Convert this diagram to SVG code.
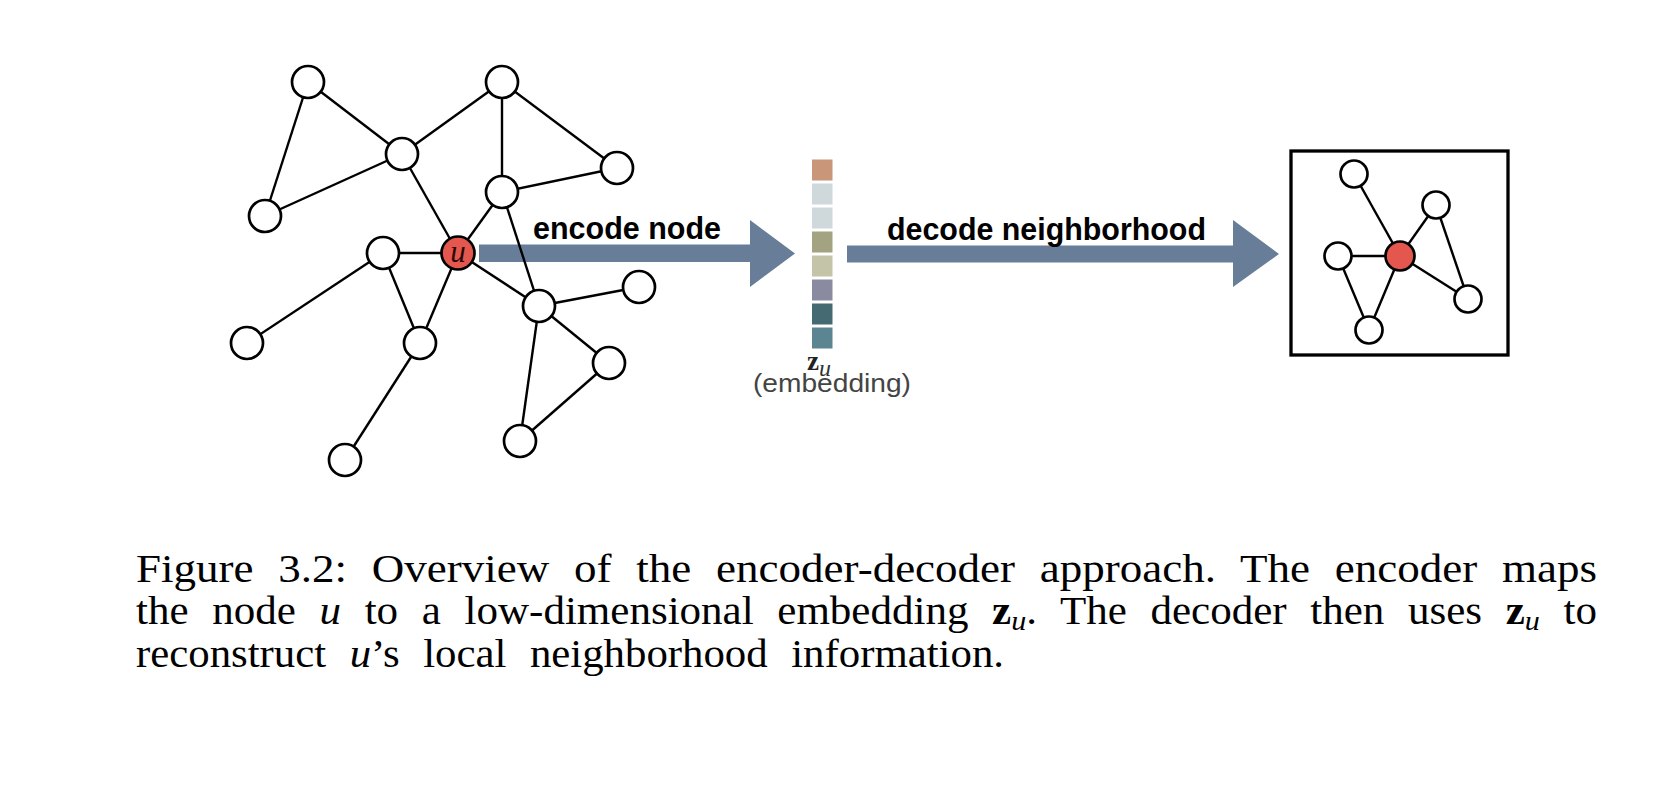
<svg xmlns="http://www.w3.org/2000/svg" width="1670" height="788" viewBox="0 0 1670 788">
<style>
.nd{fill:#fff;stroke:#000;stroke-width:2.7}
.red{fill:#e4574f;stroke:#000;stroke-width:2.7}
.ed{stroke:#000;stroke-width:2.4;fill:none}
.arr{fill:#687d98}
.lbl{font-family:"Liberation Sans",Arial,sans-serif;font-weight:bold;font-size:30.5px;fill:#000}
.cap{font-family:"Liberation Serif","Times New Roman",serif;font-size:40px;word-spacing:12px;fill:#000}
.it{font-style:italic}
.bf{font-weight:bold}
</style>
<rect width="1670" height="788" fill="#fff"/>
<g id="arrows">
<polygon id="encode-arrow" class="arr" points="479,244.5 750,244.5 750,220 795,253.5 750,287 750,262 479,262"/>
<polygon id="decode-arrow" class="arr" points="847,245.5 1233,245.5 1233,220 1279,254 1233,287 1233,262.5 847,262.5"/>
</g>
<g id="connectors">
<line class="ed" x1="308" y1="82" x2="402" y2="154"/>
<line class="ed" x1="308" y1="82" x2="265" y2="216"/>
<line class="ed" x1="402" y1="154" x2="265" y2="216"/>
<line class="ed" x1="402" y1="154" x2="502" y2="82"/>
<line class="ed" x1="502" y1="82" x2="502" y2="192"/>
<line class="ed" x1="502" y1="82" x2="617" y2="168"/>
<line class="ed" x1="502" y1="192" x2="617" y2="168"/>
<line class="ed" x1="402" y1="154" x2="458" y2="253"/>
<line class="ed" x1="502" y1="192" x2="458" y2="253"/>
<line class="ed" x1="502" y1="192" x2="539" y2="306"/>
<line class="ed" x1="383" y1="253" x2="458" y2="253"/>
<line class="ed" x1="383" y1="253" x2="247" y2="343"/>
<line class="ed" x1="383" y1="253" x2="420" y2="343"/>
<line class="ed" x1="458" y1="253" x2="420" y2="343"/>
<line class="ed" x1="458" y1="253" x2="539" y2="306"/>
<line class="ed" x1="420" y1="343" x2="345" y2="460"/>
<line class="ed" x1="539" y1="306" x2="639" y2="287"/>
<line class="ed" x1="539" y1="306" x2="609" y2="363"/>
<line class="ed" x1="539" y1="306" x2="520" y2="441"/>
<line class="ed" x1="609" y1="363" x2="520" y2="441"/>
<line class="ed" x1="1354" y1="174" x2="1400" y2="256"/>
<line class="ed" x1="1400" y1="256" x2="1436" y2="205"/>
<line class="ed" x1="1436" y1="205" x2="1468" y2="299"/>
<line class="ed" x1="1400" y1="256" x2="1468" y2="299"/>
<line class="ed" x1="1338" y1="256" x2="1400" y2="256"/>
<line class="ed" x1="1338" y1="256" x2="1369" y2="330"/>
<line class="ed" x1="1369" y1="330" x2="1400" y2="256"/>
</g>
<g id="node-a"><circle class="nd" cx="308" cy="82" r="16"/></g>
<g id="node-b"><circle class="nd" cx="502" cy="82" r="16"/></g>
<g id="node-c"><circle class="nd" cx="402" cy="154" r="16"/></g>
<g id="node-d"><circle class="nd" cx="617" cy="168" r="16"/></g>
<g id="node-e"><circle class="nd" cx="502" cy="192" r="16"/></g>
<g id="node-f"><circle class="nd" cx="265" cy="216" r="16"/></g>
<g id="node-g"><circle class="nd" cx="383" cy="253" r="16"/></g>
<g id="node-u"><circle class="red" cx="458" cy="253" r="16.5"/><text x="458" y="262" text-anchor="middle" font-family="'Liberation Serif',serif" font-style="italic" font-size="31" fill="#2a0b08">u</text></g>
<g id="node-h"><circle class="nd" cx="639" cy="287" r="16"/></g>
<g id="node-i"><circle class="nd" cx="539" cy="306" r="16"/></g>
<g id="node-j"><circle class="nd" cx="247" cy="343" r="16"/></g>
<g id="node-k"><circle class="nd" cx="420" cy="343" r="16"/></g>
<g id="node-l"><circle class="nd" cx="609" cy="363" r="16"/></g>
<g id="node-m"><circle class="nd" cx="520" cy="441" r="16"/></g>
<g id="node-n"><circle class="nd" cx="345" cy="460" r="16"/></g>
<g id="label-encode"><text class="lbl" x="533" y="238.5" textLength="188" lengthAdjust="spacingAndGlyphs">encode node</text></g>
<g id="label-decode"><text class="lbl" x="887" y="240" textLength="319" lengthAdjust="spacingAndGlyphs">decode neighborhood</text></g>
<g id="embedding">
<rect x="812" y="159.5" width="20.5" height="21" fill="#c9967a"/>
<rect x="812" y="183.5" width="20.5" height="21" fill="#cfd8db"/>
<rect x="812" y="207.5" width="20.5" height="21" fill="#cfd8db"/>
<rect x="812" y="231.5" width="20.5" height="21" fill="#a3a382"/>
<rect x="812" y="255.5" width="20.5" height="21" fill="#c4c4a9"/>
<rect x="812" y="279.5" width="20.5" height="21" fill="#8a8ba0"/>
<rect x="812" y="303.5" width="20.5" height="21" fill="#466a72"/>
<rect x="812" y="327.5" width="20.5" height="21" fill="#5b8590"/>
<text x="807" y="370" font-family="'Liberation Serif',serif" font-weight="bold" font-size="27" fill="#222">z<tspan font-weight="normal" font-style="italic" font-size="24" dy="6" fill="#333">u</tspan></text>
<text x="753" y="392" font-family="'Liberation Sans',Arial,sans-serif" font-size="26" fill="#444" textLength="158" lengthAdjust="spacingAndGlyphs">(embedding)</text>
</g>
<g id="decoded-neighborhood">
<rect x="1291" y="151" width="217" height="204" fill="none" stroke="#000" stroke-width="3.3"/>
<circle class="nd" cx="1354" cy="174" r="13.5"/>
<circle class="nd" cx="1436" cy="205" r="13.5"/>
<circle class="nd" cx="1338" cy="256" r="13.5"/>
<circle class="nd" cx="1468" cy="299" r="13.5"/>
<circle class="nd" cx="1369" cy="330" r="13.5"/>
<circle class="red" cx="1400" cy="256" r="14.5"/>
</g>
<g id="caption">
<text class="cap" x="136" y="581.5" textLength="1461" lengthAdjust="spacingAndGlyphs">Figure 3.2:  Overview of the encoder-decoder approach.  The encoder maps</text>
<text class="cap" x="136" y="624" textLength="1461" lengthAdjust="spacingAndGlyphs">the node <tspan class="it">u</tspan> to a low-dimensional embedding <tspan class="bf">z</tspan><tspan class="it" font-size="28" dy="6">u</tspan><tspan dy="-6">.  The decoder then uses </tspan><tspan class="bf">z</tspan><tspan class="it" font-size="28" dy="6">u</tspan><tspan dy="-6"> to</tspan></text>
<text class="cap" x="136" y="666.5" textLength="868" lengthAdjust="spacingAndGlyphs">reconstruct <tspan class="it">u</tspan>’s local neighborhood information.</text>
</g>
</svg>
